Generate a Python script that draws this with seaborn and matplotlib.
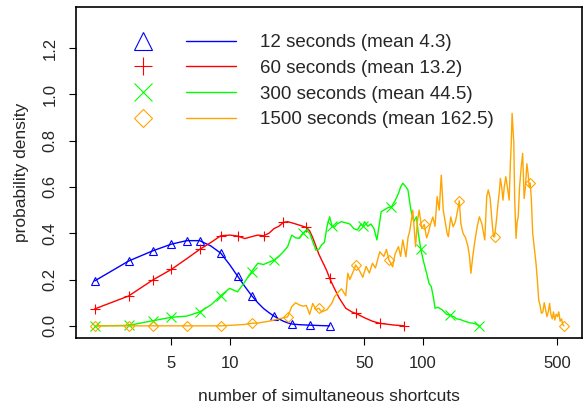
import seaborn as sns
import matplotlib.pyplot as plt
from matplotlib.lines import Line2D
from matplotlib.legend_handler import HandlerTuple

# 12 seconds
blue_x = [2, 3, 4, 5, 6, 7, 8, 9, 10, 11, 12, 13, 14, 15, 16, 17, 18, 19, 20, 21, 23, 26, 30, 33]
blue_y = [0.194, 0.280, 0.324, 0.353, 0.368, 0.368, 0.345, 0.314, 0.265, 0.215, 0.170, 0.131,
          0.100, 0.075, 0.057, 0.042, 0.030, 0.020, 0.013, 0.008, 0.005, 0.003, 0.001, 0.0]
blue_marks = [2, 3, 4, 5, 6, 7, 9, 11, 13, 17, 21, 26, 33]

# 60 seconds
red_x = [2, 3, 4, 5, 6, 7, 8, 9, 10, 11, 12, 13, 14, 15, 16, 17, 18, 19, 20, 21, 22, 23, 24, 25,
         26, 27, 28, 29, 30, 31, 32, 33, 35, 37, 40, 43, 45, 50, 55, 60, 70, 80]
red_y = [0.073, 0.129, 0.198, 0.244, 0.290, 0.330, 0.360, 0.389, 0.392, 0.388, 0.377, 0.385,
         0.392, 0.389, 0.400, 0.420, 0.430, 0.447, 0.450, 0.445, 0.440, 0.435, 0.430, 0.425,
         0.410, 0.380, 0.345, 0.310, 0.284, 0.260, 0.235, 0.205, 0.160, 0.120, 0.076, 0.060,
         0.054, 0.035, 0.020, 0.011, 0.004, 0.0]
red_marks = [2, 3, 4, 5, 7, 9, 11, 15, 19, 25, 33, 45, 60, 80]

# 300 seconds
green_x = [2, 3, 4, 5, 6, 7, 8, 9, 10, 11, 12, 13, 14, 15, 16, 17, 18, 19, 20, 21, 22, 23, 24,
           25, 26, 27, 28, 29, 30, 31, 32, 33, 34, 35, 36, 38, 40, 42, 44, 46, 48, 49, 50, 52,
           54, 56, 58, 60, 61, 63, 66, 69, 72, 75, 77, 79, 82, 84, 87, 90, 93, 95, 98, 101, 105,
           108, 111, 114, 116, 120, 126, 133, 138, 145, 150, 156, 165, 176, 186, 197]
green_y = [0.0, 0.002, 0.022, 0.037, 0.042, 0.060, 0.090, 0.130, 0.162, 0.147,
           0.190, 0.234, 0.270, 0.265, 0.275, 0.284, 0.300, 0.320, 0.342, 0.392,
           0.380, 0.378, 0.400, 0.414, 0.400, 0.363, 0.327, 0.330, 0.350, 0.360,
           0.430, 0.471, 0.430, 0.427, 0.440, 0.450, 0.445, 0.440, 0.420, 0.414,
           0.440, 0.430, 0.450, 0.430, 0.440, 0.420, 0.371, 0.450, 0.493, 0.500,
           0.510, 0.514, 0.540, 0.572, 0.600, 0.616, 0.600, 0.587, 0.500, 0.450,
           0.471, 0.400, 0.330, 0.280, 0.227, 0.184, 0.169, 0.120, 0.076, 0.080,
           0.070, 0.050, 0.047, 0.040, 0.030, 0.028, 0.020, 0.013, 0.010, 0.0]
green_marks = [2, 3, 4, 5, 7, 9, 13, 17, 24, 34, 49, 69, 98, 138, 197]

# 1500 seconds
orange_x = [2, 3, 4, 5, 6, 7, 8, 9, 10, 11,
            12, 13, 14, 16, 18, 20, 21, 22, 23, 24,
            25, 26, 27, 28, 29, 30, 32, 34, 35, 37,
            38, 40, 41, 42, 44, 45, 47, 49, 51, 53,
            55, 57, 60, 63, 65, 67, 70, 72, 75, 77,
            79, 82, 84, 86, 89, 92, 94, 96, 99, 102,
            105, 107, 110, 113, 116, 119, 122, 125, 128, 131,
            134, 136, 140, 144, 148, 152, 155, 158, 162, 167,
            172, 175, 178, 182, 187, 192, 197, 203, 207, 210,
            215, 219, 224, 229, 233, 236, 241, 246, 250, 253,
            257, 261, 265, 270, 275, 281, 285, 288, 291, 294,
            297, 300, 305, 309, 313, 318, 324, 330, 336, 341,
            347, 352, 357, 361, 366, 372, 380, 387, 393, 400,
            406, 413, 420, 427, 434, 441, 448, 455, 462, 470,
            477, 484, 492, 500, 508, 516, 525, 533, 540]
orange_y = [0, 0, 0, 0, 0, 0, 0, 0, 0.002, 0.004,
            0.006, 0.011, 0.012, 0.020, 0.030, 0.039, 0.083, 0.100, 0.090, 0.085,
            0.088, 0.050, 0.097, 0.070, 0.076, 0.060, 0.070, 0.100, 0.126, 0.150,
            0.160, 0.130, 0.227, 0.200, 0.240, 0.263, 0.240, 0.210, 0.257, 0.228,
            0.270, 0.250, 0.320, 0.300, 0.330, 0.284, 0.255, 0.310, 0.342, 0.300,
            0.371, 0.298, 0.380, 0.414, 0.500, 0.342, 0.450, 0.500, 0.420, 0.438,
            0.380, 0.400, 0.440, 0.470, 0.430, 0.558, 0.500, 0.651, 0.500, 0.450,
            0.400, 0.385, 0.470, 0.428, 0.450, 0.500, 0.540, 0.440, 0.400, 0.380,
            0.342, 0.300, 0.227, 0.300, 0.371, 0.430, 0.471, 0.440, 0.400, 0.371,
            0.558, 0.587, 0.550, 0.450, 0.385, 0.385, 0.450, 0.529, 0.580, 0.637,
            0.600, 0.543, 0.600, 0.644, 0.600, 0.543, 0.700, 0.788, 0.918, 0.850,
            0.788, 0.550, 0.378, 0.450, 0.471, 0.600, 0.680, 0.745, 0.550, 0.600,
            0.700, 0.659, 0.600, 0.616, 0.550, 0.400, 0.330, 0.270, 0.200, 0.110,
            0.090, 0.054, 0.060, 0.100, 0.070, 0.040, 0.060, 0.097, 0.050, 0.030,
            0.060, 0.025, 0.050, 0.040, 0.060, 0.020, 0.030, 0.005, 0.0]
orange_marks = [2, 3, 4, 6, 9, 13, 20, 29, 45, 67, 102, 155, 236, 361, 540]

labels = ["12 seconds (mean 4.3)", "60 seconds (mean 13.2)",
          "300 seconds (mean 44.5)", "1500 seconds (mean 162.5)"]
colors = ["#0000FF", "#FF0000", "#00FF00", "#FFA500"]
markers = ["^", "+", "x", "D"]
msizes = [6.0, 6.5, 6.5, 4.8]
leg_msizes = [13.5, 13.5, 13.5, 9.5]

sns.set_style("ticks")
plt.rcParams['font.family'] = ['Liberation Sans', 'DejaVu Sans']

fig = plt.figure(figsize=(5.87, 4.04), dpi=100)
ax = fig.add_axes([0.129, 0.164, 0.8625, 0.818])
ax.set_xscale('log')

series = [(blue_x, blue_y, blue_marks), (red_x, red_y, red_marks),
          (green_x, green_y, green_marks), (orange_x, orange_y, orange_marks)]
handles = []
for (xs, ys, mk), c, m, ms, lms in zip(series, colors, markers, msizes, leg_msizes):
    idx = [xs.index(v) for v in mk]
    sns.lineplot(x=xs, y=ys, ax=ax, color=c, linewidth=1.0, marker=m, markevery=idx,
                 markersize=ms, markerfacecolor='none', markeredgecolor=c,
                 markeredgewidth=0.8, legend=False, sort=False)
    mk_h = Line2D([], [], linestyle='none', marker=m, markersize=lms,
                  markerfacecolor='none', markeredgecolor=c, markeredgewidth=0.8)
    ln_h = Line2D([], [], color=c, linewidth=1.0)
    handles.append((mk_h, ln_h))

ax.legend(handles, labels, handler_map={tuple: HandlerTuple(ndivide=None, pad=0.95)},
          loc='upper left', bbox_to_anchor=(0.0844, 0.918), frameon=False,
          fontsize=13.5, handlelength=6.25, handletextpad=1.3, labelspacing=0.45,
          borderpad=0, borderaxespad=0, numpoints=1)

ax.set_xlim(1.596, 670)
ax.set_ylim(-0.0514, 1.376)
ax.set_xticks([5, 10, 50, 100, 500])
ax.set_xticklabels(["5", "10", "50", "100", "500"])
ax.minorticks_off()
ax.set_yticks([0.0, 0.2, 0.4, 0.6, 0.8, 1.0, 1.2])
ax.set_yticklabels(["0.0", "0.2", "0.4", "0.6", "0.8", "1.0", "1.2"])
ax.tick_params(length=5, width=0.8, direction='out', labelsize=12, color='black')
ax.tick_params(axis='x', pad=8)
ax.tick_params(axis='y', labelrotation=90, pad=8)
plt.setp(ax.get_yticklabels(), va='center')
for s in ax.spines.values():
    s.set_visible(True)
    s.set_color('black')
    s.set_linewidth(1.2)

ax.set_xlabel("number of simultaneous shortcuts", fontsize=12.5, labelpad=13)
ax.set_ylabel("probability density", fontsize=12.5, labelpad=10)
ax.set_facecolor('white')
fig.patch.set_facecolor('white')

fig.savefig("out.png", dpi=100)
